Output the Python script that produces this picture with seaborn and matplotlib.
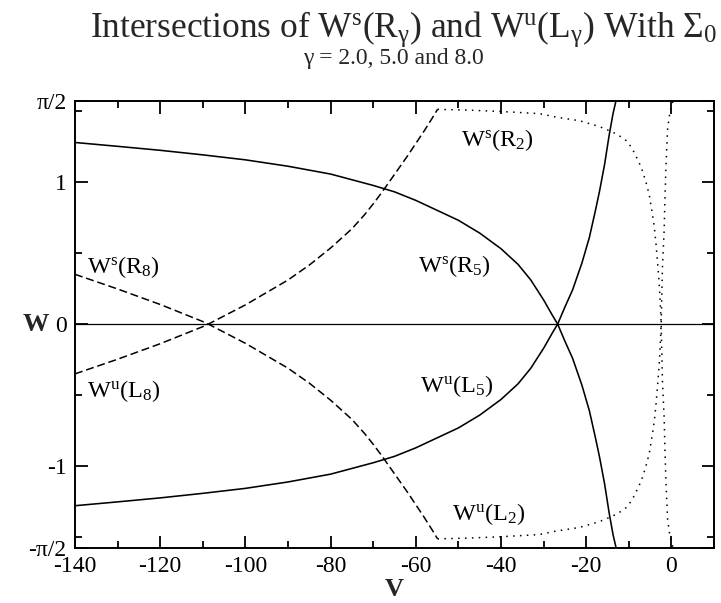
import matplotlib
matplotlib.use("Agg")
import numpy as np
import pandas as pd
import matplotlib.pyplot as plt
from matplotlib.ticker import FixedLocator, MultipleLocator
import seaborn as sns

# ---- manifold intersections with Sigma_0, (V, W) pairs ----
# gamma = 5.0 (solid)
v_ws_r5 = [-140.0, -130.0, -120.0, -110.0, -100.0, -90.0, -80.0, -70.0, -65.0, -60.0,
           -55.0, -50.0, -45.0, -40.0, -36.0, -33.0, -30.0, -28.0, -26.7, -25.0,
           -23.2, -21.0, -19.25, -17.9, -16.9, -15.7, -14.6, -13.7, -13.0]
w_ws_r5 = [1.277, 1.25, 1.222, 1.19, 1.155, 1.11, 1.055, 0.975, 0.93, 0.87,
           0.80, 0.73, 0.64, 0.53, 0.42, 0.31, 0.17, 0.065, 0.0, -0.12,
           -0.24, -0.43, -0.61, -0.79, -0.93, -1.12, -1.33, -1.48, -1.571]
v_wu_l5 = [-140.0, -130.0, -120.0, -110.0, -100.0, -90.0, -80.0, -70.0, -65.0, -60.0,
           -55.0, -50.0, -45.0, -40.0, -36.0, -33.0, -30.0, -28.0, -26.7, -25.0,
           -23.2, -21.0, -19.25, -17.9, -16.9, -15.7, -14.6, -13.7, -13.0]
w_wu_l5 = [-1.277, -1.25, -1.222, -1.19, -1.155, -1.11, -1.055, -0.975, -0.93, -0.87,
           -0.80, -0.73, -0.64, -0.53, -0.42, -0.31, -0.17, -0.065, 0.0, 0.12,
           0.24, 0.43, 0.61, 0.79, 0.93, 1.12, 1.33, 1.48, 1.571]

# gamma = 8.0 (dashed)
v_ws_r8 = [-140.0, -130.0, -120.0, -110.0, -108.7, -100.0, -90.0, -85.0, -80.0, -75.0,
           -72.0, -70.0, -68.0, -66.0, -64.0, -62.0, -60.0, -58.0, -56.0, -54.9]
w_ws_r8 = [0.35, 0.247, 0.138, 0.018, 0.0, -0.135, -0.31, -0.415, -0.535, -0.67,
           -0.77, -0.845, -0.925, -1.01, -1.095, -1.18, -1.27, -1.36, -1.455, -1.51]
v_wu_l8 = [-140.0, -130.0, -120.0, -110.0, -108.7, -100.0, -90.0, -85.0, -80.0, -75.0,
           -72.0, -70.0, -68.0, -66.0, -64.0, -62.0, -60.0, -58.0, -56.0, -54.9]
w_wu_l8 = [-0.35, -0.247, -0.138, -0.018, 0.0, 0.135, 0.31, 0.415, 0.535, 0.67,
           0.77, 0.845, 0.925, 1.01, 1.095, 1.18, 1.27, 1.36, 1.455, 1.51]

# gamma = 2.0 (dotted)
v_ws_r2 = [-54.9, -48.0, -40.0, -31.0, -27.0, -21.6, -17.0, -13.8, -12.0, -10.6,
           -9.3, -8.3, -7.5, -6.7, -5.9, -5.2, -4.6, -4.0, -3.6, -3.24,
           -2.9, -2.7, -2.4, -2.1, -1.7, -1.5, -1.25, -0.9, -0.4, 0.1, 0.5]
w_ws_r2 = [1.51, 1.505, 1.495, 1.48, 1.455, 1.43, 1.39, 1.35, 1.32, 1.29,
           1.24, 1.18, 1.13, 1.07, 0.99, 0.91, 0.80, 0.68, 0.56, 0.43,
           0.30, 0.20, 0.0, -0.4, -0.66, -0.9, -1.13, -1.37, -1.48, -1.55, -1.571]
v_wu_l2 = [-54.9, -48.0, -40.0, -31.0, -27.0, -21.6, -17.0, -13.8, -12.0, -10.6,
           -9.3, -8.3, -7.5, -6.7, -5.9, -5.2, -4.6, -4.0, -3.6, -3.24,
           -2.9, -2.7, -2.4, -2.1, -1.7, -1.5, -1.25, -0.9, -0.4, 0.1, 0.5]
w_wu_l2 = [-1.51, -1.505, -1.495, -1.48, -1.455, -1.43, -1.39, -1.35, -1.32, -1.29,
           -1.24, -1.18, -1.13, -1.07, -0.99, -0.91, -0.80, -0.68, -0.56, -0.43,
           -0.30, -0.20, 0.0, 0.4, 0.66, 0.9, 1.13, 1.37, 1.48, 1.55, 1.571]

y_tick_values = [-np.pi / 2, -1, 0, 1, np.pi / 2]
y_tick_labels = ["-\u03c0/2", "-1", "0", "1", "\u03c0/2"]
x_tick_values = [-140, -120, -100, -80, -60, -40, -20, 0]

title_main = (r"Intersections of $\mathrm{W}^{\mathrm{s}}(\mathrm{R}_{\mathrm{\gamma}})$"
              r" and $\mathrm{W}^{\mathrm{u}}(\mathrm{L}_{\mathrm{\gamma}})$ With $\mathrm{\Sigma}_{0}$")
title_sub = "\u03b3 = 2.0, 5.0 and 8.0"

curve_labels = [
    (r"$\mathrm{W}^{\mathrm{s}}(\mathrm{R}_{8})$", -137.2, 0.357),
    (r"$\mathrm{W}^{\mathrm{u}}(\mathrm{L}_{8})$", -137.2, -0.512),
    (r"$\mathrm{W}^{\mathrm{s}}(\mathrm{R}_{5})$", -59.6, 0.368),
    (r"$\mathrm{W}^{\mathrm{u}}(\mathrm{L}_{5})$", -59.1, -0.48),
    (r"$\mathrm{W}^{\mathrm{s}}(\mathrm{R}_{2})$", -49.3, 1.249),
    (r"$\mathrm{W}^{\mathrm{u}}(\mathrm{L}_{2})$", -51.4, -1.38),
]

# ---- long-form table ----
frames = []
for name, v, w, style in [
    ("Ws(R5)", v_ws_r5, w_ws_r5, "solid"),
    ("Wu(L5)", v_wu_l5, w_wu_l5, "solid"),
    ("Ws(R8)", v_ws_r8, w_ws_r8, "dashed"),
    ("Wu(L8)", v_wu_l8, w_wu_l8, "dashed"),
    ("Ws(R2)", v_ws_r2, w_ws_r2, "dotted"),
    ("Wu(L2)", v_wu_l2, w_wu_l2, "dotted"),
]:
    frames.append(pd.DataFrame({"V": v, "W": w, "curve": name, "kind": style}))
df = pd.concat(frames, ignore_index=True)

sns.set_theme(style="ticks")
plt.rcParams["font.family"] = ["Liberation Serif", "DejaVu Serif"]
plt.rcParams["mathtext.fontset"] = "custom"
plt.rcParams["mathtext.rm"] = "Liberation Serif"
plt.rcParams["mathtext.it"] = "Liberation Serif:italic"
plt.rcParams["mathtext.bf"] = "Liberation Serif:bold"
plt.rcParams["axes.unicode_minus"] = False

fig = plt.figure(figsize=(7.21, 6.03), dpi=100)
ax = fig.add_axes([75 / 721, 1 - 547.5 / 603, (714 - 75) / 721, (547.5 - 100.7) / 603])

line_styles = {
    "solid": dict(linestyle="-", linewidth=1.15),
    "dashed": dict(linestyle=(0, (5.2, 2.5)), linewidth=1.1),
    "dotted": dict(linestyle=(0, (1.0, 3.5)), linewidth=1.1),
}

ax.axhline(0, color="black", linewidth=0.9, zorder=1)

for name, sub in df.groupby("curve", sort=False):
    kind = sub["kind"].iloc[0]
    sns.lineplot(data=sub, x="V", y="W", sort=False, estimator=None,
                 color="black", ax=ax, zorder=3, **line_styles[kind])

for text, x, y in curve_labels:
    ax.text(x, y, text, fontsize=17.5, ha="left", va="baseline", color="black")

ax.set_xlim(-140, 10)
ax.set_ylim(-np.pi / 2, np.pi / 2)
ax.xaxis.set_major_locator(FixedLocator(x_tick_values))
ax.xaxis.set_minor_locator(MultipleLocator(10))
ax.yaxis.set_major_locator(FixedLocator(y_tick_values))
ax.set_yticklabels(y_tick_labels)
ax.yaxis.set_minor_locator(FixedLocator([-1.5, -0.5, 0.5, 1.5]))

ax.tick_params(which="both", direction="in", top=True, right=True,
               width=1.3, colors="black", labelsize=17)
ax.tick_params(which="major", length=9, pad=6)
ax.tick_params(which="minor", length=4.8)
for s in ax.spines.values():
    s.set_linewidth(1.4)
    s.set_color("black")

ax.set_xlabel("V", fontsize=19, fontweight="bold", ha="center", va="center")
ax.xaxis.set_label_coords(0.5, -0.094)
ax.set_ylabel("W", fontsize=19, fontweight="bold", rotation=0, ha="center", va="center")
ax.yaxis.set_label_coords(-0.061, 0.5)

fig.text(0.559, 1 - 37 / 603, title_main, fontsize=25.5, ha="center", va="baseline")
fig.text(0.545, 1 - 64 / 603, title_sub, fontsize=17, ha="center", va="baseline")

fig.savefig("out.png", dpi=100)
